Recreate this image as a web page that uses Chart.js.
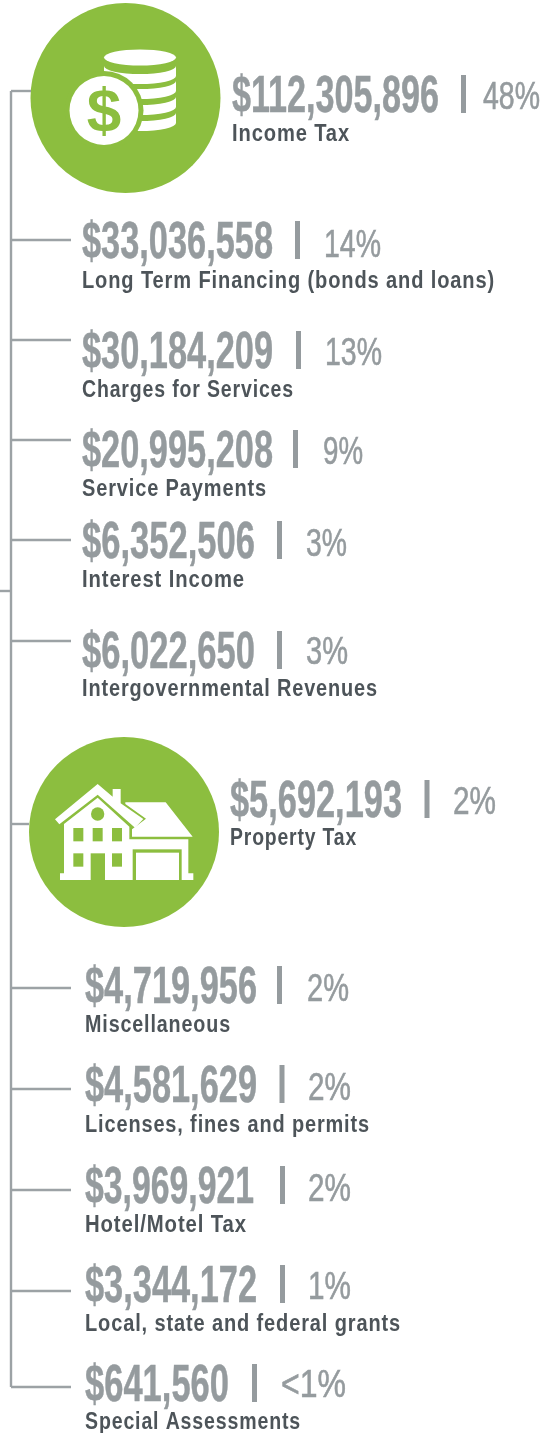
<!DOCTYPE html>
<html>
<head>
<meta charset="utf-8">
<title>Revenue sources</title>
<script src="https://cdn.jsdelivr.net/npm/chart.js@4/dist/chart.umd.min.js"></script>
<style>
    html, body { margin: 0; padding: 0; background: #ffffff; }
    canvas { display: block; }
</style>
</head>
<body>
<canvas id="revenueChart" width="551" height="1433" role="img" aria-label="Revenue by source"></canvas>
<script>
// Values
const categories = [
    'Income Tax', 'Long Term Financing (bonds and loans)', 'Charges for Services',
    'Service Payments', 'Interest Income', 'Intergovernmental Revenues', 'Property Tax',
    'Miscellaneous', 'Licenses, fines and permits', 'Hotel/Motel Tax',
    'Local, state and federal grants', 'Special Assessments'
];
const amounts = [112305896, 33036558, 30184209, 20995208, 6352506, 6022650, 5692193, 4719956, 4581629, 3969921, 3344172, 641560];
const shares = ['48%', '14%', '13%', '9%', '3%', '3%', '2%', '2%', '2%', '2%', '1%', '<1%'];

// Layout of each row, in picture coordinates
const branchY = [91, 240, 340, 440, 540, 641, 824, 988, 1089, 1190, 1291, 1387];
const branchEnd = [31, 71, 71, 71, 71, 71, 29, 71, 71, 71, 71, 71];
const textX = [232, 82, 82, 82, 82, 82, 230, 85, 85, 85, 85, 85];
const amountBase = [112, 258, 368, 467, 558, 668, 817, 1003, 1102, 1203, 1302, 1401];
const amountWidth = [207, 191, 191, 191, 173, 173, 172, 172, 172, 169, 172, 144];
const labelBase = [141, 288, 397, 496, 587, 696, 845, 1032, 1132, 1232, 1331, 1429];
const labelWidth = [118, 413, 212, 185, 163, 296, 127, 146, 285, 162, 316, 216];
const barX = [461, 295, 296, 293, 277, 277, 424.5, 277, 279.5, 280, 280, 252];
const shareBase = [109, 256.5, 365, 464, 556, 664, 814, 1001, 1100, 1201, 1299, 1397];
const shareX = [483, 324, 325, 323, 306, 306, 453, 307, 308, 308, 308, 281];
const shareWidth = [57, 57, 57, 40, 41, 42, 43, 42, 43, 43, 43, 65];

const circleX = [125.5, 124];
const circleY = [98, 832];
const circleR = [95, 95];

const spineX = 11;
const stubY = 591;

const GREEN = '#8cbe3f';
const LINE = '#9ca2a5';
const AMOUNT = '#959b9e';
const LABEL = '#4d5459';

function branchDataset(points) {
    return {
        type: 'line',
        data: points,
        borderColor: LINE,
        borderWidth: 2.4,
        pointRadius: 0,
        fill: false,
        tension: 0,
        clip: false
    };
}

// Squeeze or stretch a text so it fills the width it has in the picture
function fitText(ctx, text, x, y, width, weight) {
    const natural = ctx.measureText(text).width;
    ctx.save();
    ctx.translate(x, y);
    ctx.scale(width / natural, 1);
    ctx.fillText(text, 0, 0);
    if (weight) {
        // no heavy condensed face is installed, so thicken the stems a little
        ctx.strokeStyle = ctx.fillStyle;
        ctx.lineWidth = weight;
        ctx.strokeText(text, 0, 0);
    }
    ctx.restore();
}

function drawCoins(ctx, cx, cy) {
    ctx.save();
    ctx.translate(cx - 125.5, cy - 98);
    ctx.fillStyle = '#ffffff';
    ctx.beginPath();
    ctx.ellipse(140, 57.5, 36, 8, 0, 0, Math.PI * 2);
    ctx.fill();
    [66, 81, 97, 113].forEach(top => {
        ctx.beginPath();
        ctx.ellipse(140, top + 10, 36, 8, 0, 0, Math.PI);
        ctx.lineTo(104, top);
        ctx.ellipse(140, top, 36, 8, 0, Math.PI, 0, true);
        ctx.closePath();
        ctx.fill();
    });
    ctx.fillStyle = GREEN;
    ctx.beginPath();
    ctx.arc(104, 110.5, 39.5, 0, Math.PI * 2);
    ctx.fill();
    ctx.fillStyle = '#ffffff';
    ctx.beginPath();
    ctx.arc(104, 110.5, 34.5, 0, Math.PI * 2);
    ctx.fill();
    ctx.fillStyle = GREEN;
    ctx.font = 'bold 62px "Liberation Sans"';
    ctx.textAlign = 'center';
    ctx.fillText('$', 104, 131);
    ctx.restore();
}

function fillPolygon(ctx, pts) {
    ctx.beginPath();
    for (let i = 0; i < pts.length; i += 2) {
        if (i === 0) ctx.moveTo(pts[i], pts[i + 1]);
        else ctx.lineTo(pts[i], pts[i + 1]);
    }
    ctx.closePath();
    ctx.fill();
}

// House shapes were measured on a 3x crop, hence the scale
function drawHouse(ctx, cx, cy) {
    ctx.save();
    ctx.translate(cx - 124, cy - 832 + 720);
    ctx.scale(1 / 3, 1 / 3);
    ctx.fillStyle = '#ffffff';
    fillPolygon(ctx, [376, 247, 497, 247, 578, 350, 396, 350, 396, 328, 438, 296, 376, 252]);
    fillPolygon(ctx, [165, 298, 293, 192, 338, 230, 338, 207, 362, 207, 362, 250, 430, 297, 405, 323, 293, 224, 178, 313]);
    fillPolygon(ctx, [192, 312, 293, 233, 388, 320, 388, 358, 565, 358, 565, 460, 580, 460, 580, 480, 180, 480, 180, 460, 192, 460]);
    ctx.fillStyle = GREEN;
    ctx.beginPath();
    ctx.arc(293, 282, 20, 0, Math.PI * 2);
    ctx.fill();
    ctx.fillRect(220, 324, 30, 40);
    ctx.fillRect(278, 324, 30, 40);
    ctx.fillRect(336, 324, 30, 40);
    ctx.fillRect(220, 400, 30, 40);
    ctx.fillRect(336, 400, 30, 40);
    ctx.fillRect(272, 400, 43, 80);
    ctx.fillRect(398, 388, 147, 92);
    ctx.fillStyle = '#ffffff';
    ctx.fillRect(408, 398, 129, 82);
    ctx.restore();
}

const rowTextPlugin = {
    id: 'rowText',
    afterDatasetsDraw(chart) {
        const { ctx, scales: { x, y } } = chart;
        ctx.save();
        ctx.textAlign = 'left';
        ctx.textBaseline = 'alphabetic';

        categories.forEach((name, i) => {
            const left = x.getPixelForValue(textX[i]);

            ctx.fillStyle = AMOUNT;
            ctx.font = 'bold 51px "Liberation Sans Narrow", "Liberation Sans"';
            const amountText = '$' + amounts[i].toLocaleString('en-US');
            const base = y.getPixelForValue(amountBase[i]);
            fitText(ctx, amountText, left, base, amountWidth[i], 0.5);

            // separator between amount and share
            ctx.fillRect(x.getPixelForValue(barX[i]), base - 37, 5, 38);

            ctx.font = '39px "Liberation Sans Narrow", "Liberation Sans"';
            fitText(ctx, shares[i], x.getPixelForValue(shareX[i]), y.getPixelForValue(shareBase[i]), shareWidth[i], 0.6);

            ctx.fillStyle = LABEL;
            ctx.font = 'bold 23px "Liberation Sans"';
            ctx.letterSpacing = '1px';
            fitText(ctx, name, left, y.getPixelForValue(labelBase[i]), labelWidth[i]);
            ctx.letterSpacing = '0px';
        });

        drawCoins(ctx, x.getPixelForValue(circleX[0]), y.getPixelForValue(circleY[0]));
        drawHouse(ctx, x.getPixelForValue(circleX[1]), y.getPixelForValue(circleY[1]));
        ctx.restore();
    }
};

new Chart(document.getElementById('revenueChart'), {
    type: 'scatter',
    data: {
        datasets: [
            branchDataset([{ x: spineX, y: branchY[0] }, { x: spineX, y: branchY[branchY.length - 1] }]),
            branchDataset([{ x: 0, y: stubY }, { x: spineX, y: stubY }]),
            ...branchY.map((rowY, i) => branchDataset([{ x: spineX, y: rowY }, { x: branchEnd[i], y: rowY }])),
            {
                type: 'bubble',
                data: circleX.map((cx, i) => ({ x: cx, y: circleY[i], r: circleR[i] })),
                backgroundColor: GREEN,
                borderWidth: 0,
                hoverRadius: 0,
                clip: false
            }
        ]
    },
    options: {
        responsive: false,
        animation: false,
        events: [],
        layout: { padding: 0, autoPadding: false },
        plugins: {
            legend: { display: false },
            tooltip: { enabled: false }
        },
        scales: {
            x: { type: 'linear', min: 0, max: 551, display: false },
            y: { type: 'linear', min: 0, max: 1433, reverse: true, display: false }
        }
    },
    plugins: [rowTextPlugin]
});
</script>
</body>
</html>
